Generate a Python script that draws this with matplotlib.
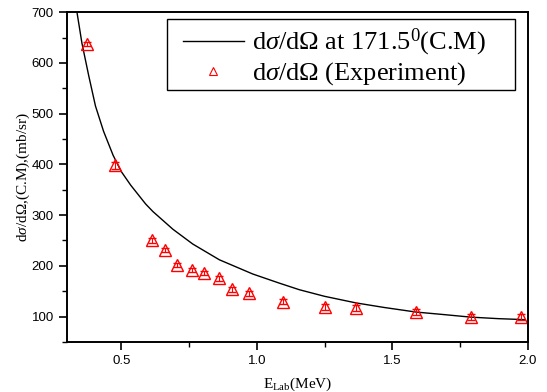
import matplotlib
matplotlib.use("Agg")
import matplotlib.pyplot as plt
from matplotlib.ticker import MultipleLocator
from matplotlib.lines import Line2D
from matplotlib.patches import Rectangle

plt.rcParams['mathtext.fontset'] = 'custom'
plt.rcParams['mathtext.rm'] = 'Liberation Serif'
plt.rcParams['mathtext.it'] = 'Liberation Serif:italic'

# calculated curve
e_calc = [0.337, 0.355, 0.38, 0.405, 0.435, 0.47, 0.50, 0.535, 0.59, 0.617,
          0.691, 0.764, 0.862, 0.985, 1.083, 1.157, 1.25, 1.366, 1.47, 1.587,
          1.69, 1.789, 1.89, 1.99]
ds_calc = [699, 639, 575, 515, 465, 418, 386, 359, 322, 307,
           272, 243, 212, 184, 166, 153, 140, 127, 118, 109,
           104, 99, 96, 94]

# experimental points
e_exp = [0.374, 0.476, 0.612, 0.66, 0.704, 0.76, 0.807, 0.859, 0.907, 0.973,
         1.098, 1.252, 1.366, 1.587, 1.789, 1.976]
ds_exp = [638, 398, 250, 232, 202, 192, 186, 176, 154, 146,
          129, 119, 117, 109, 100, 100]
ds_err = [4, 7, 4, 4, 4, 4, 4, 5, 5, 5, 5, 5, 6, 6, 6, 6]

label_calc = r'd$\sigma$/d$\Omega$ at 171.5$^{0}$(C.M)'
label_exp = r'd$\sigma$/d$\Omega$ (Experiment)'

fig = plt.figure(figsize=(5.47, 3.92), dpi=100)
ax = fig.add_axes([0.1225, 0.1276, 0.8425, 0.8414])

ax.plot(e_calc, ds_calc, color='black', lw=1.0)
ax.errorbar(e_exp, ds_exp, yerr=ds_err, fmt='^', mfc='none', mec='red',
            ecolor='red', ms=9, mew=1.0, elinewidth=0.8, capsize=3)

ax.set_xlim(0.3, 2.0)
ax.set_ylim(50, 700)
ax.xaxis.set_major_locator(MultipleLocator(0.5))
ax.xaxis.set_minor_locator(MultipleLocator(0.25))
ax.yaxis.set_major_locator(MultipleLocator(100))
ax.yaxis.set_minor_locator(MultipleLocator(50))
ax.tick_params(which='major', direction='out', length=6, width=1.2,
               labelsize=9.5, top=False, right=False)
ax.tick_params(which='minor', direction='out', length=3.5, width=1.0)
for lab in ax.get_xticklabels() + ax.get_yticklabels():
    lab.set_family('Liberation Sans')
for s in ax.spines.values():
    s.set_linewidth(1.4)

ax.set_xlabel(r'E$_{\mathrm{Lab}}$(MeV)', family='Liberation Serif', fontsize=11, labelpad=6)
ax.set_ylabel(r'd$\sigma$/d$\Omega$,(C.M),(mb/sr)', family='Liberation Serif',
              fontsize=11, labelpad=0)

# legend box (wider than its contents, as in the original)
ax.add_patch(Rectangle((0.217, 0.764), 0.755, 0.215, transform=ax.transAxes,
                       fill=True, facecolor='white', edgecolor='black',
                       lw=1.0, zorder=4))
handles = [Line2D([], [], color='black', lw=1.0),
           Line2D([], [], ls='none', marker='^', mfc='none', mec='red', ms=6, mew=0.8)]
leg = ax.legend(handles, [label_calc, label_exp], loc='upper left',
                bbox_to_anchor=(0.2516, 0.955), borderaxespad=0,
                prop={'family': 'Liberation Serif', 'size': 19},
                frameon=False, handlelength=2.3, borderpad=0,
                labelspacing=0.08, handletextpad=0.3)
leg.set_zorder(5)

fig.savefig('out.png', dpi=100)
